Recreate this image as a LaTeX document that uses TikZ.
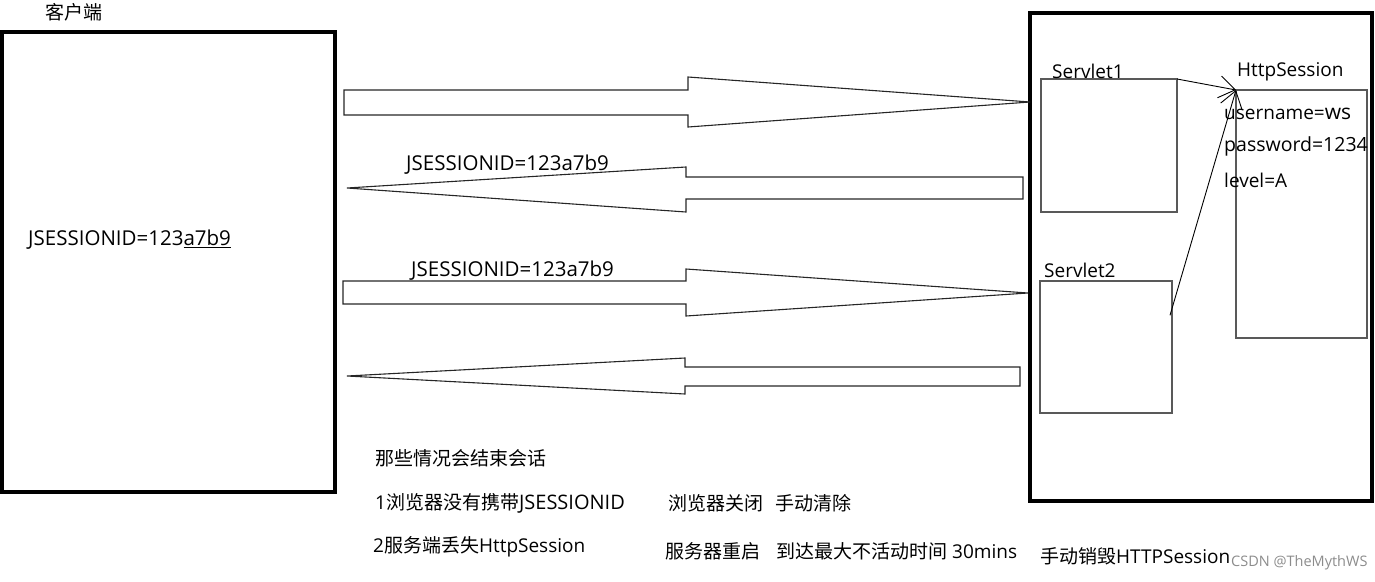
\documentclass[tikz,border=0pt]{standalone}
\usepackage{fontspec}
\setmainfont{Open Sans}
\newfontfamily\cjk{Noto Sans CJK SC}
\usetikzlibrary{calc}
\usetikzlibrary{arrows.meta}

\tikzset{
  box/.style={draw, inner sep=0pt, outer sep=0pt},
  thickbox/.style={box, line width=4pt},
  thinbox/.style={box, draw=black!65, line width=1.3pt},
  txt/.style={anchor=west, inner sep=0pt, font=\fontsize{19}{21}\selectfont},
  idtxt/.style={txt, font=\fontsize{20.5}{22}\selectfont},
  blockarrow/.style={draw=black!85, line width=1.1pt, line join=miter},
  barb/.style={-{Straight Barb[length=16pt,width=22pt]}, line width=0.9pt},
}

\begin{document}
\begin{tikzpicture}[x=1pt,y=-1pt]
    \useasboundingbox (0,0) rectangle (1375,581);
    % client
    \node [thickbox, minimum width=333, minimum height=459.5] (client) at (168.5,262) {};
    \node [txt] (clientname) at (45,12) {\cjk 客户端};
    \node [idtxt] (cookie) at (28,240) {JSESSIONID=123\underline{a7b9}};
    % server
    \node [thickbox, minimum width=342.5, minimum height=488.5] (server) at (1201,256.75) {};
    \node [thinbox, minimum width=136, minimum height=133] (servlet1) at (1109,145.5) {};
    \node [thinbox, minimum width=132, minimum height=132] (servlet2) at (1106,347) {};
    \node [thinbox, minimum width=131, minimum height=248] (session) at (1301.5,214) {};
    \node [txt] (s1name) at (1052,71) {Servlet1};
    \node [txt] (s2name) at (1044,270) {Servlet2};
    \node [txt] (sessname) at (1237,72) {HttpSession};
    \node [txt] (user) at (1224,114) {username={\fontsize{21}{23}\selectfont ws}};
    \node [txt, font=\fontsize{19.5}{21}\selectfont] (pass) at (1224,146) {password=1234};
    \node [txt] (level) at (1224,180) {level=A};
    \coordinate (s2out) at ($(servlet2.north east)!0.26!(servlet2.south east)+(-2,0)$);
    \draw [barb] (servlet1.north east) -- (session.north west);
    \draw [barb] (s2out) -- (session.north west);
    % requests and responses
    \draw [blockarrow] (344,90) -- (688,90) -- (688,77) -- (1030,102) -- (688,127) -- (688,115) -- (344,115) -- cycle;
    \draw [blockarrow] (1023,177) -- (686,177) -- (686,167) -- (347,188) -- (686,212) -- (686,199) -- (1023,199) -- cycle;
    \draw [blockarrow] (343,281) -- (686,281) -- (686,269) -- (1028,293) -- (686,316) -- (686,304) -- (343,304) -- cycle;
    \draw [blockarrow] (1020,367) -- (685,367) -- (685,358) -- (347,376) -- (685,394) -- (685,386) -- (1020,386) -- cycle;
    \node [idtxt] (resp) at (406,165) {JSESSIONID=123a7b9};
    \node [idtxt] (req) at (411,271) {JSESSIONID=123a7b9};
    % notes
    \node [txt] (q) at (375,458) {\cjk 那些情况会结束会话};
    \node [txt] (c1) at (375,503) {1{\cjk 浏览器没有携带}{\fontsize{20}{21}\selectfont JSESSIONID}};
    \node [txt] (c1b) at (668,503) {\cjk 浏览器关闭\hspace{12pt}手动清除};
    \node [txt] (c2) at (373,547) {2{\cjk 服务端丢失}HttpSession};
    \node [txt] (c2b) at (665,551) {{\cjk 服务器重启}\hspace{16pt}{\cjk 到达最大不活动时间} 30mins};
    \node [txt] (c3) at (1040,556) {{\cjk 手动销毁}HTTPSession};
    \node [txt, text=black!45, font=\fontsize{14.5}{16}\selectfont] (mark) at (1231,563) {CSDN @TheMythWS};
\end{tikzpicture}
\end{document}
